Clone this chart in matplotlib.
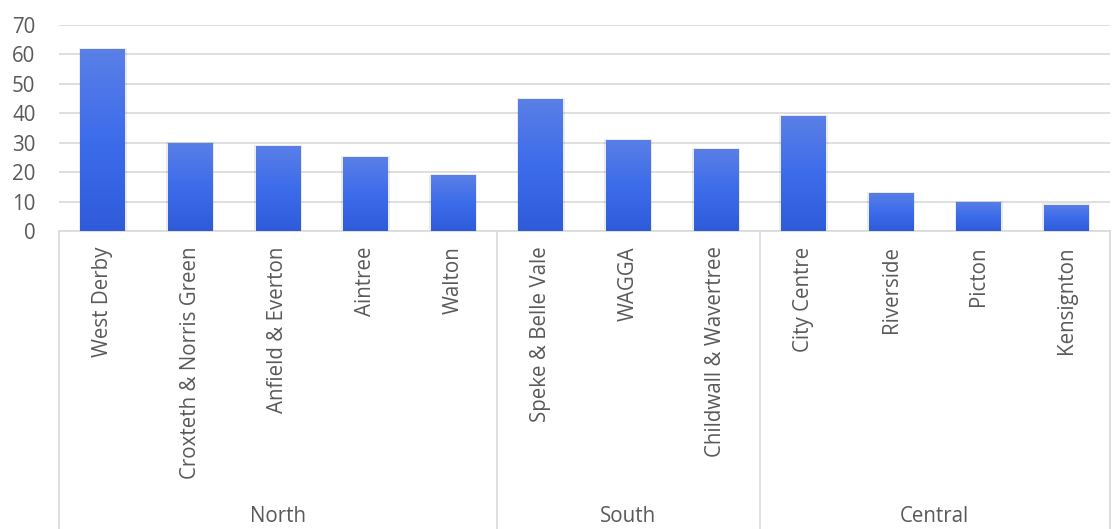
import matplotlib
matplotlib.use("Agg")
import matplotlib.pyplot as plt
import numpy as np
from matplotlib.colors import LinearSegmentedColormap
from matplotlib.patches import Rectangle

categories = ["West Derby", "Croxteth & Norris Green", "Anfield & Everton", "Aintree", "Walton",
              "Speke & Belle Vale", "WAGGA", "Childwall & Wavertree",
              "City Centre", "Riverside", "Picton", "Kensignton"]
values = [62, 30, 29, 25, 19, 45, 31, 28, 39, 13, 10, 9]
groups = ["North", "South", "Central"]
group_sizes = [5, 3, 4]
yticks = [0, 10, 20, 30, 40, 50, 60, 70]

plt.rcParams['font.family'] = ['Open Sans', 'DejaVu Sans']
text_color = "#595959"
grid_color = "#d9d9d9"
fs = 14.8

fig = plt.figure(figsize=(11.18, 5.29), dpi=100)
ax = fig.add_axes([59/1118, 1-231/529, (1110-59)/1118, (231-25)/529])

n = len(categories)
x = np.arange(n)
width = 0.51

cmap = LinearSegmentedColormap.from_list("g", ["#2f5bd9", "#3d6ceb", "#5a80e6"])
grad = np.linspace(0, 1, 256).reshape(-1, 1)

for xi, v in zip(x, values):
    sh = Rectangle((xi - width/2 - 0.02, 0), width + 0.04, v + 0.35, facecolor="#000000",
                   alpha=0.08, edgecolor="none", zorder=2)
    ax.add_patch(sh)
    bar = ax.bar(xi, v, width=width, color="none", edgecolor="none", zorder=3)[0]
    im = ax.imshow(grad, extent=[xi - width/2, xi + width/2, 0, v], origin="lower",
                   cmap=cmap, aspect="auto", zorder=3)
    im.set_clip_path(bar)

ax.set_aspect("auto")
ax.set_xlim(-0.5, n-0.5)
ax.set_ylim(0, 70)

ax.set_yticks(yticks)
ax.set_yticklabels([str(t) for t in yticks], fontsize=fs, color=text_color)
ax.yaxis.grid(True, color=grid_color, linewidth=1.2, zorder=0)
ax.set_axisbelow(True)
ax.tick_params(axis="y", length=0, pad=17)
ax.tick_params(axis="x", length=0, labelbottom=False)
for s in ["top", "right", "left"]:
    ax.spines[s].set_visible(False)
ax.spines["bottom"].set_color(grid_color)
ax.spines["bottom"].set_linewidth(1.2)

trans = ax.get_xaxis_transform()
for xi, c in zip(x, categories):
    ax.annotate(c, xy=(xi, 0), xycoords=trans, xytext=(0, -11), textcoords="offset points",
                rotation=90, ha="center", va="top", fontsize=fs, color=text_color,
                annotation_clip=False)

bounds = np.concatenate([[0], np.cumsum(group_sizes)]) - 0.5
ybot = -(529 - 231) / (231 - 25)
for b in bounds:
    ax.plot([b, b], [0, ybot], transform=trans, color=grid_color, linewidth=1.2,
            clip_on=False, zorder=1)
for g, s0, s1 in zip(groups, bounds[:-1], bounds[1:]):
    ax.text((s0 + s1) / 2, -(517 - 231) / (231 - 25), g, transform=trans, ha="center",
            va="center", fontsize=fs, color=text_color)

fig.savefig("out.png", dpi=100)
